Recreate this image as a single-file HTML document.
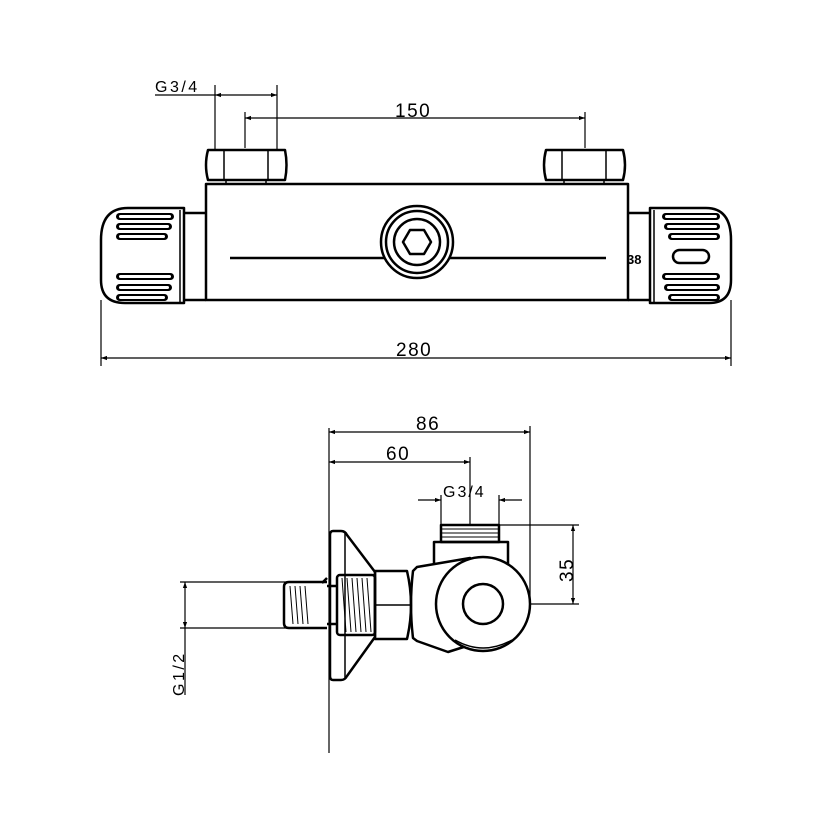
<!DOCTYPE html>
<html><head><meta charset="utf-8"><style>
html,body{margin:0;padding:0;background:#fff;}
svg{display:block;}
text{font-family:"Liberation Sans",sans-serif;fill:#000;}
</style></head><body>
<svg width="830" height="830" viewBox="0 0 830 830" xmlns="http://www.w3.org/2000/svg">
<defs>
<marker id="a" viewBox="0 0 10 10" refX="10" refY="5" markerWidth="12" markerHeight="6" orient="auto-start-reverse" markerUnits="userSpaceOnUse">
<path d="M0,1.5 L10,5 L0,8.5 z" fill="#000"/></marker>
</defs>
<g fill="none" stroke="#000" stroke-width="1.2">
<line x1="155" y1="95" x2="215" y2="95"/>
<line x1="215" y1="95" x2="277" y2="95" marker-start="url(#a)" marker-end="url(#a)"/>
<line x1="215" y1="85" x2="215" y2="150"/>
<line x1="277" y1="85" x2="277" y2="150"/>
<line x1="245" y1="118" x2="585" y2="118" marker-start="url(#a)" marker-end="url(#a)"/>
<line x1="245" y1="112" x2="245" y2="148"/>
<line x1="585" y1="112" x2="585" y2="148"/>
<line x1="101" y1="358" x2="731" y2="358" marker-start="url(#a)" marker-end="url(#a)"/>
<line x1="101" y1="300" x2="101" y2="366"/>
<line x1="731" y1="300" x2="731" y2="366"/>
</g>
<g fill="none" stroke="#000" stroke-width="2.5" stroke-linejoin="round">
<path d="M208,150 L285,150 Q288,165 285,180 L208,180 Q204,165 208,150 Z"/>
<line x1="224" y1="151" x2="224" y2="179" stroke-width="1.5"/>
<line x1="268" y1="151" x2="268" y2="179" stroke-width="1.5"/>
<path d="M546,150 L623,150 Q627,165 623,180 L546,180 Q542,165 546,150 Z"/>
<line x1="562" y1="151" x2="562" y2="179" stroke-width="1.5"/>
<line x1="606" y1="151" x2="606" y2="179" stroke-width="1.5"/>
<line x1="226" y1="181" x2="226" y2="185" stroke-width="1.5"/>
<line x1="266" y1="181" x2="266" y2="185" stroke-width="1.5"/>
<line x1="564" y1="181" x2="564" y2="185" stroke-width="1.5"/>
<line x1="604" y1="181" x2="604" y2="185" stroke-width="1.5"/>
<rect x="206" y="184" width="422" height="116"/>
<line x1="230" y1="258" x2="606" y2="258"/>
<path d="M184,213 L206,213 M184,300 L206,300"/>
<path d="M628,213 L650,213 M628,300 L650,300"/>
<path d="M184,208 L128,208 Q101,208 101,240 L101,280 Q101,303 125,303 L184,303 Z"/>
<line x1="180" y1="210" x2="180" y2="302" stroke-width="1.5"/>
<path d="M650,208 L706,208 Q731,208 731,240 L731,280 Q731,303 709,303 L650,303 Z"/>
<line x1="654" y1="210" x2="654" y2="302" stroke-width="1.5"/>
<rect x="673" y="250" width="36" height="13" rx="6.5"/>
<circle cx="417" cy="242" r="36" fill="#fff"/>
<circle cx="417" cy="242" r="31"/>
<circle cx="417" cy="242" r="23"/>
<polygon points="431,242 424,254 410,254 403,242 410,230 424,230"/>
</g>
<g fill="#000">
<rect x="116" y="213" width="58" height="7" rx="3.5"/>
<rect x="116" y="223" width="56" height="7" rx="3.5"/>
<rect x="116" y="233" width="52" height="7" rx="3.5"/>
<rect x="116" y="273" width="58" height="7" rx="3.5"/>
<rect x="116" y="284" width="56" height="7" rx="3.5"/>
<rect x="116" y="294" width="52" height="7" rx="3.5"/>
<rect x="662" y="213" width="58" height="7" rx="3.5"/>
<rect x="664" y="223" width="56" height="7" rx="3.5"/>
<rect x="668" y="233" width="52" height="7" rx="3.5"/>
<rect x="662" y="273" width="58" height="7" rx="3.5"/>
<rect x="664" y="284" width="56" height="7" rx="3.5"/>
<rect x="668" y="294" width="52" height="7" rx="3.5"/>
</g>
<g fill="#fff">
<rect x="119" y="215" width="52" height="3" rx="1.5"/>
<rect x="119" y="225" width="50" height="3" rx="1.5"/>
<rect x="119" y="235" width="46" height="3" rx="1.5"/>
<rect x="119" y="275" width="52" height="3" rx="1.5"/>
<rect x="119" y="286" width="50" height="3" rx="1.5"/>
<rect x="119" y="296" width="46" height="3" rx="1.5"/>
<rect x="665" y="215" width="52" height="3" rx="1.5"/>
<rect x="667" y="225" width="50" height="3" rx="1.5"/>
<rect x="671" y="235" width="46" height="3" rx="1.5"/>
<rect x="665" y="275" width="52" height="3" rx="1.5"/>
<rect x="667" y="286" width="50" height="3" rx="1.5"/>
<rect x="671" y="296" width="46" height="3" rx="1.5"/>
</g>
<text x="155" y="92" font-size="16" letter-spacing="2.5">G3/4</text>
<text x="395" y="117" font-size="19" letter-spacing="1.5">150</text>
<text x="396" y="356" font-size="19" letter-spacing="1.5">280</text>
<text x="627" y="264" font-size="13" font-weight="bold">38</text>

<g fill="none" stroke="#000" stroke-width="1.2">
<line x1="329" y1="428" x2="329" y2="753"/>
<line x1="329" y1="432" x2="530" y2="432" marker-start="url(#a)" marker-end="url(#a)"/>
<line x1="530" y1="426" x2="530" y2="604"/>
<line x1="329" y1="462" x2="470" y2="462" marker-start="url(#a)" marker-end="url(#a)"/>
<line x1="470" y1="457" x2="470" y2="525"/>
<line x1="418" y1="500" x2="441" y2="500" marker-end="url(#a)"/>
<line x1="522" y1="500" x2="499" y2="500" marker-end="url(#a)"/>
<line x1="441" y1="495" x2="441" y2="525"/>
<line x1="499" y1="495" x2="499" y2="525"/>
<line x1="499" y1="525" x2="579" y2="525"/>
<line x1="531" y1="604" x2="579" y2="604"/>
<line x1="573" y1="525" x2="573" y2="604" marker-start="url(#a)" marker-end="url(#a)"/>
<line x1="180" y1="582" x2="325" y2="582"/>
<line x1="180" y1="628" x2="327" y2="628"/>
<line x1="185" y1="582" x2="185" y2="628" marker-start="url(#a)" marker-end="url(#a)"/>
<line x1="185" y1="628" x2="185" y2="695"/>
</g>
<text x="416" y="430" font-size="19" letter-spacing="1.5">86</text>
<text x="386" y="460" font-size="19" letter-spacing="1.5">60</text>
<text x="443" y="497" font-size="16" letter-spacing="2">G3/4</text>
<text font-size="19" letter-spacing="1.5" transform="translate(573,582) rotate(-90)">35</text>
<text font-size="16" letter-spacing="2.5" transform="translate(184,696) rotate(-90)">G1/2</text>

<g fill="none" stroke="#000" stroke-width="2.5" stroke-linejoin="round">
<path d="M333,531 L341,531 Q345,531 347,535 L375,572 L375,637 L347,676 Q345,680 341,680 L333,680 Q330,680 330,676 L330,535 Q330,531 333,531 Z"/>
<line x1="345" y1="532" x2="345" y2="679" stroke-width="1.5"/>
<path d="M327,582 L289,582 Q284,582 284,587 L284,623 Q284,628 289,628 L327,628"/>
<path d="M327,578 L322,583 M327,586 L337,586 M327,624 L337,624"/>
<rect x="337" y="575" width="38" height="60" rx="3"/>
<path d="M375,571 L407,571 Q411,588 411,605 Q411,622 407,639 L375,639 Z"/>
<line x1="375" y1="605" x2="411" y2="605" stroke-width="1.5"/>
<path d="M413,571 L417,567 L470,558 L470,645 L448,652 L417,641 L413,638 Q409,605 413,571 Z"/>
<path d="M434,565 L434,542 L508,542 L508,565"/>
<rect x="441" y="525" width="58" height="17"/>
<circle cx="483" cy="604" r="47" fill="#fff"/>
<path d="M455,640 Q483,656 512,640" stroke-width="1.5"/>
<circle cx="483" cy="604" r="20"/>
</g>
<g stroke="#000" stroke-width="1" fill="none">
<line x1="441" y1="529" x2="499" y2="529"/>
<line x1="441" y1="533" x2="499" y2="533"/>
<line x1="441" y1="537" x2="499" y2="537"/>
<line x1="290" y1="586" x2="293" y2="624"/><line x1="295" y1="586" x2="298" y2="624"/>
<line x1="300" y1="586" x2="303" y2="624"/><line x1="305" y1="586" x2="308" y2="624"/>
<line x1="342" y1="578" x2="346" y2="632"/><line x1="347" y1="578" x2="351" y2="632"/>
<line x1="352" y1="578" x2="356" y2="632"/><line x1="357" y1="578" x2="361" y2="632"/>
<line x1="362" y1="578" x2="366" y2="632"/><line x1="367" y1="578" x2="371" y2="632"/>
</g>
</svg>
</body></html>
